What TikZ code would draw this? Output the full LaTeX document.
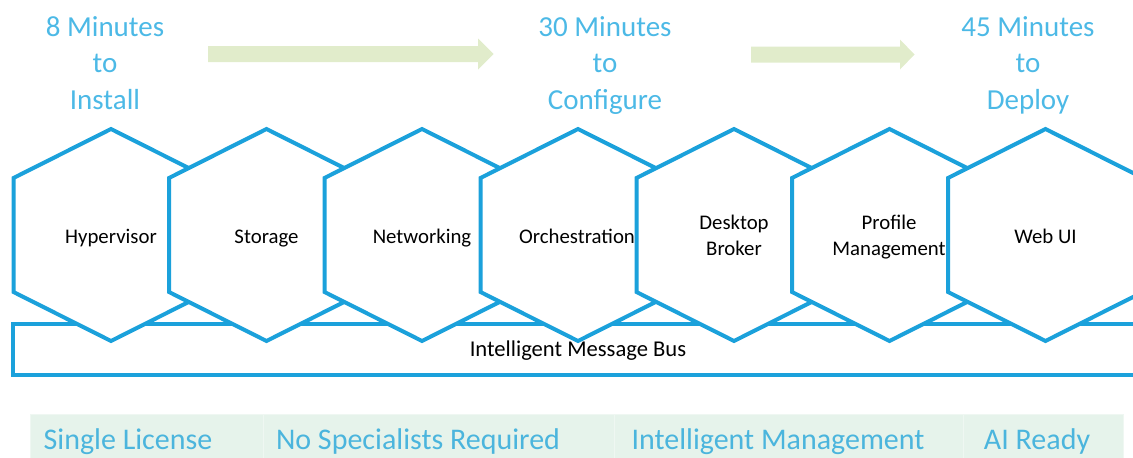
\documentclass[tikz,border=0pt]{standalone}
\usepackage{fontspec}
\setmainfont{Carlito}

\definecolor{hexblue}{HTML}{1BA1DB}
\definecolor{ttlblue}{HTML}{4CB9E6}
\definecolor{featblue}{HTML}{4BB5DD}
\definecolor{arrgreen}{HTML}{E1ECCB}
\definecolor{bandgreen}{HTML}{E6F3EB}

\begin{document}
\begin{tikzpicture}[
  x=1pt, y=-1pt,
  hexa/.style={draw=hexblue, line width=4pt, fill=white},
  lbl/.style={font=\fontsize{20.8}{25.6}\selectfont, align=center, inner sep=0pt},
  ttl/.style={font=\fontsize{29}{36.5}\selectfont, text=ttlblue, align=center, inner sep=0pt},
  feat/.style={font=\fontsize{30}{36}\selectfont, text=featblue, inner sep=0pt, anchor=base},
  flow/.style={fill=arrgreen},
  cell/.style={fill=bandgreen, draw=white!35!bandgreen, line width=1pt},
]

\useasboundingbox (0,0) rectangle (1133,458);
\clip (0,0) rectangle (1133,458);

% titles and arrows
\node [ttl] (install) at (105,65.2) {\strut8 Minutes\\to\\Install\strut};
\node [ttl] (config) at (605,65.2) {\strut30 Minutes\\to\\Configure\strut};
\node [ttl] (deploy) at (1028,65.2) {\strut45 Minutes\\to\\Deploy\strut};

\path [flow] (208,46) -- (478,46) -- (478,38.5) -- (493.5,54) -- (478,69.5) -- (478,62) -- (208,62) -- cycle;
\path [flow] (751,46.5) -- (900,46.5) -- (900,39.5) -- (914.5,54.5) -- (900,69.5) -- (900,62.5) -- (751,62.5) -- cycle;

% message bus
\draw [hexa] (13,324) rectangle (1150,375);
\node [lbl, font=\fontsize{22.6}{26}\selectfont, anchor=base] (bus) at (578,356) {Intelligent Message Bus};

% hexagons
\draw [hexa] (111,129) -- ++(97.5,49) -- ++(0,114) -- ++(-97.5,49) -- ++(-97.5,-49) -- ++(0,-114) -- cycle;
\node [lbl, anchor=base] (hyp) at (111,243) {Hypervisor};

\draw [hexa] (266.5,129) -- ++(97.5,49) -- ++(0,114) -- ++(-97.5,49) -- ++(-97.5,-49) -- ++(0,-114) -- cycle;
\node [lbl, anchor=base] (stor) at (266.5,243) {Storage};

\draw [hexa] (422,129) -- ++(97.5,49) -- ++(0,114) -- ++(-97.5,49) -- ++(-97.5,-49) -- ++(0,-114) -- cycle;
\node [lbl, anchor=base] (net) at (422,243) {Networking};

\draw [hexa] (578,129) -- ++(97.5,49) -- ++(0,114) -- ++(-97.5,49) -- ++(-97.5,-49) -- ++(0,-114) -- cycle;
\node [lbl, anchor=base] (orch) at (577,243) {Orchestration};

\draw [hexa] (734,129) -- ++(97.5,49) -- ++(0,114) -- ++(-97.5,49) -- ++(-97.5,-49) -- ++(0,-114) -- cycle;
\node [lbl] (broker) at (734,237.2) {\strut Desktop\\Broker\strut};

\draw [hexa] (889.5,129) -- ++(97.5,49) -- ++(0,114) -- ++(-97.5,49) -- ++(-97.5,-49) -- ++(0,-114) -- cycle;
\node [lbl] (profile) at (889,237.2) {\strut Profile\\Management\strut};

\draw [hexa] (1045.5,129) -- ++(97.5,49) -- ++(0,114) -- ++(-97.5,49) -- ++(-97.5,-49) -- ++(0,-114) -- cycle;
\node [lbl, anchor=base] (webui) at (1045.5,243) {Web UI};

% feature band
\path [cell] (30,414.5) rectangle (263.5,460);
\path [cell] (263.5,414.5) rectangle (614,460);
\path [cell] (614,414.5) rectangle (963.5,460);
\path [cell] (963.5,414.5) rectangle (1123,460);

\node [feat] (lic) at (128,449) {Single License};
\node [feat] (spec) at (418,449) {No Specialists Required};
\node [feat] (mgmt) at (778,449) {Intelligent Management};
\node [feat] (ai) at (1037,449) {AI Ready};

\end{tikzpicture}
\end{document}
